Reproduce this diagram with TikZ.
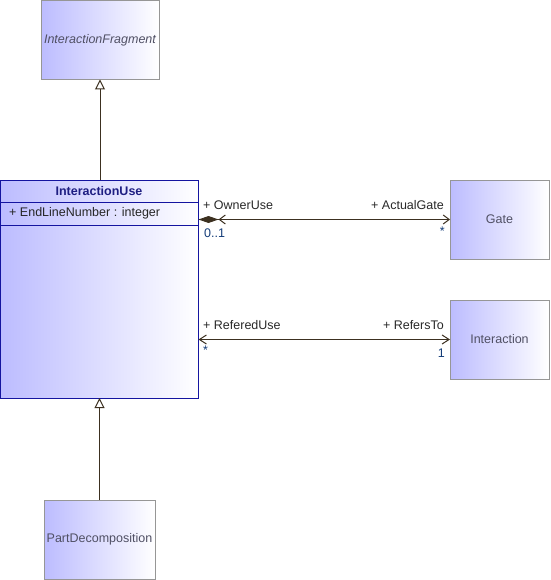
\documentclass[tikz,border=0pt]{standalone}
\usepackage{fontspec}
\setmainfont{Liberation Sans}
\usetikzlibrary{arrows.meta}
\definecolor{boxL}{RGB}{188,188,255}
\definecolor{boxBorder}{RGB}{150,150,150}
\definecolor{iuBorder}{RGB}{20,20,160}
\definecolor{iuText}{RGB}{30,30,130}
\definecolor{nameText}{RGB}{80,80,100}
\definecolor{lineC}{RGB}{60,48,32}
\definecolor{labelC}{RGB}{40,40,40}
\definecolor{multC}{RGB}{20,60,120}
\begin{document}
\begin{tikzpicture}[x=1pt,y=-1pt,
  font=\fontsize{12.5}{14}\selectfont,
  cls/.style={draw=boxBorder, line width=1pt, left color=boxL, right color=white,
    text=nameText, inner sep=0pt, outer sep=0pt, anchor=north west, align=center},
  gen/.style={draw=lineC, line width=1pt, -{Triangle[open, length=10pt, width=10pt, fill=white]}},
  assoc/.style={draw=lineC, line width=1pt},
  lbl/.style={text=labelC, inner sep=0pt},
  mult/.style={text=multC, inner sep=0pt}]
\useasboundingbox (0,0) rectangle (550,580);

% classes
\node[cls, minimum width=118, minimum height=79] (frag) at (41,0.5) {\itshape InteractionFragment};
\node[cls, minimum width=99, minimum height=79] (gate) at (450,180) {Gate};
\node[cls, minimum width=99, minimum height=79] (inter) at (450,300) {Interaction};
\node[cls, minimum width=111, minimum height=79] (part) at (44,500) {PartDecomposition};
\node[cls, draw=iuBorder, minimum width=198, minimum height=218] (iu) at (0.5,180) {};
\coordinate (sepA) at (0.5,202);
\coordinate (sepB) at (0.5,225);
\draw[iuBorder, line width=1pt] (sepA) -- (sepA -| iu.east);
\draw[iuBorder, line width=1pt] (sepB) -- (sepB -| iu.east);
\node[text=iuText, font=\fontsize{12.5}{14}\selectfont\bfseries, inner sep=0pt] (iuname) at (99,191) {InteractionUse};
\node[text=black!85, anchor=west, inner sep=0pt] (iuattr) at (9,213.5) {+ EndLineNumber : integer};

% generalizations
\draw[gen] (frag.south |- iu.north) -- (frag.south);
\draw[gen] (part.north) -- (part.north |- iu.south);

% associations
\draw[assoc, {Straight Barb[length=6pt, width=9pt]}-{Straight Barb[length=6pt, width=9pt] Diamond[length=20pt, width=7pt, fill=lineC]}] (gate.west) -- (gate.west -| iu.east);
\draw[assoc, {Straight Barb[length=7pt, width=9pt]}-{Straight Barb[length=7pt, width=9pt]}] (inter.west) -- (inter.west -| iu.east);

% labels
\node[lbl, anchor=west] (ou) at (203,205) {+ OwnerUse};
\node[mult, anchor=west] (ou1) at (204,233) {0..1};
\node[lbl, anchor=east] (ag) at (444,205) {+ ActualGate};
\node[mult, anchor=east] (agm) at (445,231) {*};
\node[lbl, anchor=west] (ru) at (203,325) {+ ReferedUse};
\node[mult, anchor=west] (rum) at (203,350) {*};
\node[lbl, anchor=east] (rt) at (444,325) {+ RefersTo};
\node[mult, anchor=east] (rt1) at (445,353) {1};
\end{tikzpicture}
\end{document}
